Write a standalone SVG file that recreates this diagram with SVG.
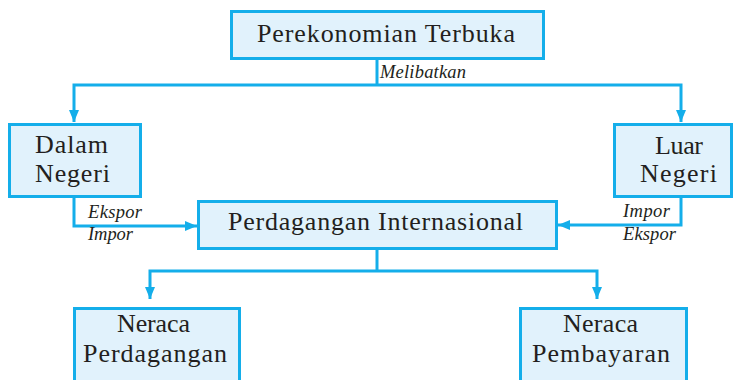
<svg xmlns="http://www.w3.org/2000/svg" width="733" height="380" viewBox="0 0 733 380">
  <style>
    .box { fill: #E1F2FC; stroke: #14AEEA; stroke-width: 3; }
    .link { fill: none; stroke: #14AEEA; stroke-width: 3; }
    .label { font-family: "Liberation Serif", "DejaVu Serif", serif; font-size: 26px; fill: #231F20; text-anchor: middle; }
    .note { font-family: "Liberation Serif", "DejaVu Serif", serif; font-size: 18.5px; font-style: italic; fill: #231F20; }
  </style>
  <defs>
    <marker id="arrow" viewBox="0 0 12 10" refX="12" refY="5" markerWidth="12" markerHeight="10" orient="auto-start-reverse" markerUnits="userSpaceOnUse">
      <path d="M0,0 L12,5 L0,10 z" fill="#14AEEA"/>
    </marker>
  </defs>
  <rect width="733" height="380" fill="#FFFFFF"/>

  <g id="connectors">
    <path class="link" d="M377,60 V85"/>
    <path class="link" d="M74,122 V85 H681 V122" marker-start="url(#arrow)" marker-end="url(#arrow)"/>
    <path class="link" d="M74,198 V226 H197" marker-end="url(#arrow)"/>
    <path class="link" d="M681,198 V225 H558" marker-end="url(#arrow)"/>
    <path class="link" d="M377,250 V271"/>
    <path class="link" d="M150,299 V271 H597 V299" marker-start="url(#arrow)" marker-end="url(#arrow)"/>
    <text class="note" x="380" y="78" textLength="86">Melibatkan</text>
    <text class="note" x="88" y="218" textLength="54">Ekspor</text>
    <text class="note" x="88" y="240" textLength="45">Impor</text>
    <text class="note" x="623" y="217" textLength="47">Impor</text>
    <text class="note" x="623" y="240" textLength="53">Ekspor</text>
  </g>

  <g id="perekonomian-terbuka">
    <rect class="box" x="231.5" y="11.5" width="312" height="47"/>
    <text class="label" x="386" y="42" textLength="258">Perekonomian Terbuka</text>
  </g>

  <g id="dalam-negeri">
    <rect class="box" x="9.5" y="124.5" width="131" height="72"/>
    <text class="label" x="71.5" y="153" textLength="73">Dalam</text>
    <text class="label" x="72.5" y="182" textLength="75">Negeri</text>
  </g>

  <g id="luar-negeri">
    <rect class="box" x="614.5" y="124.5" width="117" height="72"/>
    <text class="label" x="679" y="154" textLength="48">Luar</text>
    <text class="label" x="678.5" y="182" textLength="77">Negeri</text>
  </g>

  <g id="perdagangan-internasional">
    <rect class="box" x="198.5" y="201.5" width="358" height="47"/>
    <text class="label" x="375.5" y="230" textLength="295">Perdagangan Internasional</text>
  </g>

  <g id="neraca-perdagangan">
    <rect class="box" x="74.5" y="308.5" width="165" height="80"/>
    <text class="label" x="153.5" y="332" textLength="73">Neraca</text>
    <text class="label" x="155" y="362" textLength="144">Perdagangan</text>
  </g>

  <g id="neraca-pembayaran">
    <rect class="box" x="520.5" y="308.5" width="166" height="80"/>
    <text class="label" x="600.5" y="332" textLength="75">Neraca</text>
    <text class="label" x="601" y="362" textLength="138">Pembayaran</text>
  </g>
</svg>
